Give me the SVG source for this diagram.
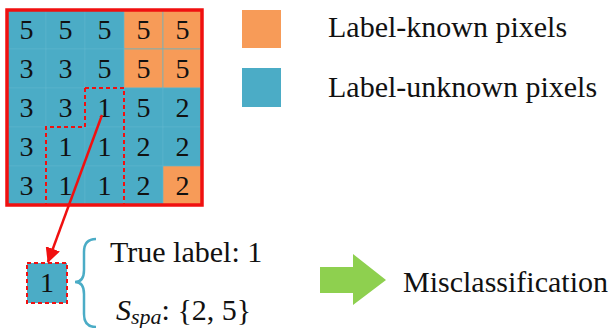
<svg xmlns="http://www.w3.org/2000/svg" width="610" height="328" viewBox="0 0 610 328">
<style>
.t{fill:#4BACC6}
.o{fill:#F79B58}
.cell{stroke:#5DB6CD;stroke-width:0.6}
.num{font-family:'Liberation Serif','DejaVu Serif',serif;font-size:28px;text-anchor:middle;fill:#111}
.txt{font-family:'Liberation Serif','DejaVu Serif',serif;font-size:30px;fill:#111}
.dash{fill:none;stroke:#F01010;stroke-width:2;stroke-dasharray:4 3}
</style>
<defs>
<marker id="ah" markerWidth="15" markerHeight="15" refX="14" refY="7.5" orient="auto" markerUnits="userSpaceOnUse" viewBox="0 0 15 15">
<path d="M0,0 L15,7.5 L0,15 z" fill="#F01010"/>
</marker>
</defs>
<rect width="610" height="328" fill="#fff"/>
<g id="grid">
<rect class="cell t" x="7" y="10" width="39" height="39"/><rect class="cell t" x="46" y="10" width="39" height="39"/><rect class="cell t" x="85" y="10" width="39" height="39"/><rect class="cell o" x="124" y="10" width="39" height="39"/><rect class="cell o" x="163" y="10" width="39" height="39"/>
<rect class="cell t" x="7" y="49" width="39" height="39"/><rect class="cell t" x="46" y="49" width="39" height="39"/><rect class="cell t" x="85" y="49" width="39" height="39"/><rect class="cell o" x="124" y="49" width="39" height="39"/><rect class="cell o" x="163" y="49" width="39" height="39"/>
<rect class="cell t" x="7" y="88" width="39" height="39"/><rect class="cell t" x="46" y="88" width="39" height="39"/><rect class="cell t" x="85" y="88" width="39" height="39"/><rect class="cell t" x="124" y="88" width="39" height="39"/><rect class="cell t" x="163" y="88" width="39" height="39"/>
<rect class="cell t" x="7" y="127" width="39" height="39"/><rect class="cell t" x="46" y="127" width="39" height="39"/><rect class="cell t" x="85" y="127" width="39" height="39"/><rect class="cell t" x="124" y="127" width="39" height="39"/><rect class="cell t" x="163" y="127" width="39" height="39"/>
<rect class="cell t" x="7" y="166" width="39" height="39"/><rect class="cell t" x="46" y="166" width="39" height="39"/><rect class="cell t" x="85" y="166" width="39" height="39"/><rect class="cell t" x="124" y="166" width="39" height="39"/><rect class="cell o" x="163" y="166" width="39" height="39"/>
<text class="num" x="26.5" y="38.5">5</text><text class="num" x="65.5" y="38.5">5</text><text class="num" x="104.5" y="38.5">5</text><text class="num" x="143.5" y="38.5">5</text><text class="num" x="182.5" y="38.5">5</text>
<text class="num" x="26.5" y="77.5">3</text><text class="num" x="65.5" y="77.5">3</text><text class="num" x="104.5" y="77.5">5</text><text class="num" x="143.5" y="77.5">5</text><text class="num" x="182.5" y="77.5">5</text>
<text class="num" x="26.5" y="116.5">3</text><text class="num" x="65.5" y="116.5">3</text><text class="num" x="104.5" y="116.5">1</text><text class="num" x="143.5" y="116.5">5</text><text class="num" x="182.5" y="116.5">2</text>
<text class="num" x="26.5" y="155.5">3</text><text class="num" x="65.5" y="155.5">1</text><text class="num" x="104.5" y="155.5">1</text><text class="num" x="143.5" y="155.5">2</text><text class="num" x="182.5" y="155.5">2</text>
<text class="num" x="26.5" y="194.5">3</text><text class="num" x="65.5" y="194.5">1</text><text class="num" x="104.5" y="194.5">1</text><text class="num" x="143.5" y="194.5">2</text><text class="num" x="182.5" y="194.5">2</text>
<path class="dash" d="M85,88 H124 V205 M85,88 V127 H46 V205"/>
<rect x="7" y="10" width="195" height="195" fill="none" stroke="#F01010" stroke-width="3.5"/>
</g>
<g id="legend">
<rect class="o" x="242" y="10" width="39" height="38"/>
<text class="txt" x="328" y="37">Label-known pixels</text>
<rect class="t" x="242" y="68" width="39" height="39"/>
<text class="txt" x="328" y="97">Label-unknown pixels</text>
</g>
<g id="pixel">
<rect class="t" x="27" y="263" width="40" height="40"/>
<rect class="dash" x="27" y="263" width="40" height="40"/>
<text class="num" x="47" y="292">1</text>
</g>
<g id="brace">
<path d="M96,239 Q84,239 84,252 V270 Q84,282 75,282 Q84,282 84,294 V314 Q84,327 96,327" fill="none" stroke="#4BACC6" stroke-width="2.5"/>
</g>
<g id="info">
<text class="txt" x="110" y="262">True label: 1</text>
<text class="txt" x="116" y="320"><tspan font-style="italic">S</tspan><tspan font-style="italic" font-size="22" dy="4">spa</tspan><tspan dy="-4">: {2, 5}</tspan></text>
</g>
<g id="connectors">
<line x1="102" y1="115" x2="48" y2="262" stroke="#F01010" stroke-width="2.5" marker-end="url(#ah)"/>
</g>
<g id="result">
<path d="M320,267 H353 V254 L386,280 L353,305 V293 H320 z" fill="#8ED04F"/>
<text class="txt" x="403" y="292">Misclassification</text>
</g>
</svg>
